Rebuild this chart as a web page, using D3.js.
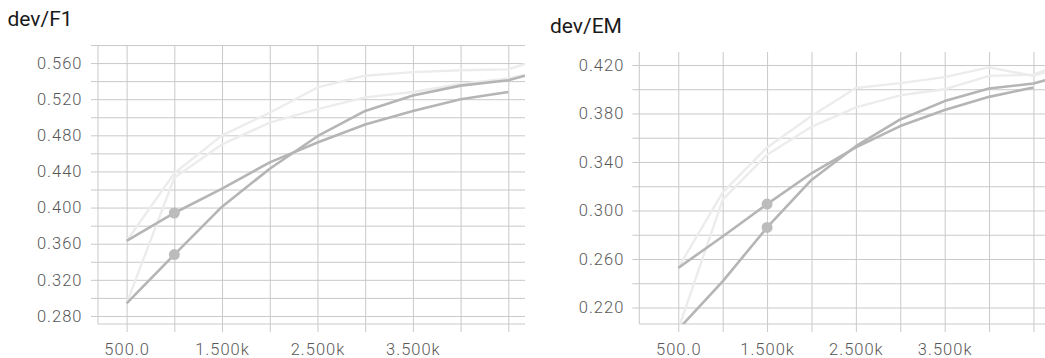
<!DOCTYPE html>
<html>
<head>
<meta charset="utf-8">
<script src="https://cdn.jsdelivr.net/npm/d3@7"></script>
<style>
  html, body { margin: 0; padding: 0; background: #fff; }
  svg { display: block; }
  text { font-family: Roboto, "Liberation Sans", sans-serif; }
</style>
</head>
<body>
<svg id="chart" width="1045" height="358"></svg>
<script>
// Training steps at which the dev set was evaluated
const steps = [500, 1000, 1500, 2000, 2500, 3000, 3500, 4000, 4500];
const stepsFull = [500, 1000, 1500, 2000, 2500, 3000, 3500, 4000, 4500, 4675];

// x grid / tick labels
const xGridSteps = [500, 1000, 1500, 2000, 2500, 3000, 3500, 4000, 4500];
const xLabelSteps = [500, 1500, 2500, 3500];
const xLabelText = ["500.0", "1.500k", "2.500k", "3.500k"];

// dev/F1 — smoothed runs (dark) and raw runs (faint)
const f1RunA = [0.363, 0.394, 0.421, 0.450, 0.472, 0.492, 0.507, 0.520, 0.528];
const f1RunB = [0.294, 0.348, 0.401, 0.443, 0.479, 0.507, 0.524, 0.535, 0.541, 0.546];
const f1RawA = [0.363, 0.438, 0.480, 0.505, 0.533, 0.546, 0.550, 0.552, 0.553, 0.559];
const f1RawB = [0.294, 0.433, 0.470, 0.494, 0.509, 0.522, 0.528, 0.537, 0.543, 0.547];
const f1YMajor = [0.28, 0.32, 0.36, 0.40, 0.44, 0.48, 0.52, 0.56];
const f1YMinor = [0.30, 0.34, 0.38, 0.42, 0.46, 0.50, 0.54, 0.58];
const f1MarkerStep = 1000;

// dev/EM — smoothed runs (dark) and raw runs (faint)
const emRunA = [0.2527, 0.2786, 0.3053, 0.3307, 0.352, 0.3696, 0.3828, 0.3937, 0.4014];
const emRunB = [0.202, 0.2416, 0.286, 0.3252, 0.353, 0.3751, 0.3902, 0.4006, 0.4047, 0.4082];
const emRawA = [0.2527, 0.315, 0.352, 0.378, 0.401, 0.405, 0.410, 0.418, 0.411, 0.415];
const emRawB = [0.202, 0.309, 0.346, 0.369, 0.385, 0.395, 0.400, 0.411, 0.412, 0.417];
const emYMajor = [0.22, 0.26, 0.30, 0.34, 0.38, 0.42];
const emYMinor = [0.24, 0.28, 0.32, 0.36, 0.40];
const emMarkerStep = 1500;

const svg = d3.select("#chart");
const TICK = 7;
const GRID = "#c9c9c9";
const fmtY = d3.format(".3f");

const panels = [
  {
    id: "f1", title: "dev/F1", titleX: 7.5, titleY: 25.5,
    left: 98, right: 525, top: 45, bottom: 324,
    xDomain: [200, 4675], yDomain: [0.2711, 0.58],
    yMajor: f1YMajor, yMinor: f1YMinor, yPad: 8.5,
    raw: [f1RawA, f1RawB], runs: [f1RunA, f1RunB], marker: f1MarkerStep
  },
  {
    id: "em", title: "dev/EM", titleX: 550, titleY: 32.5,
    left: 639.3, right: 1049, top: 52, bottom: 324,
    xDomain: [61, 4675], yDomain: [0.2064, 0.4307],
    yMajor: emYMajor, yMinor: emYMinor, yPad: 8,
    raw: [emRawA, emRawB], runs: [emRunA, emRunB], marker: emMarkerStep
  }
];

function seriesPoints(values) {
  const xs = values.length === steps.length ? steps : stepsFull;
  return d3.zip(xs, values);
}

panels.forEach(p => {
  const x = d3.scaleLinear().domain(p.xDomain).range([p.left, p.right]);
  const y = d3.scaleLinear().domain(p.yDomain).range([p.bottom, p.top]);
  const g = svg.append("g").attr("class", "panel-" + p.id);

  // title
  g.append("text")
    .attr("x", p.titleX).attr("y", p.titleY)
    .attr("font-size", 21).attr("font-weight", 400).attr("fill", "#1a1a1a")
    .text(p.title);

  // horizontal grid + y tick labels
  const majorSet = new Set(p.yMajor.map(v => v.toFixed(3)));
  const yTicks = p.yMajor.concat(p.yMinor).sort(d3.ascending);
  const yAxis = d3.axisLeft(y)
    .tickValues(yTicks)
    .tickSize(-(p.right - p.left + TICK))
    .tickPadding(p.yPad)
    .tickFormat(v => majorSet.has(v.toFixed(3)) ? fmtY(v) : "");
  g.append("g")
    .attr("transform", `translate(${p.left - TICK},0)`)
    .call(yAxis)
    .call(a => a.select(".domain").remove())
    .call(a => a.selectAll(".tick line").attr("stroke", GRID))
    .call(a => a.selectAll(".tick text")
      .attr("font-size", 16.5).attr("font-weight", 300)
      .attr("letter-spacing", 1).attr("fill", "#585858")
      .attr("font-family", "Roboto, 'Liberation Sans', sans-serif"));

  // vertical grid + x tick labels
  const labelMap = new Map(xLabelSteps.map((s, i) => [s, xLabelText[i]]));
  const xAxis = d3.axisBottom(x)
    .tickValues(xGridSteps)
    .tickSize(p.bottom - p.top + 8)
    .tickPadding(11)
    .tickFormat(s => labelMap.get(s) || "");
  g.append("g")
    .attr("transform", `translate(0,${p.top})`)
    .call(xAxis)
    .call(a => a.select(".domain").remove())
    .call(a => a.selectAll(".tick line").attr("stroke", GRID))
    .call(a => a.selectAll(".tick text")
      .attr("font-size", 16.5).attr("font-weight", 300)
      .attr("letter-spacing", 1).attr("fill", "#585858")
      .attr("font-family", "Roboto, 'Liberation Sans', sans-serif"));

  // axis lines
  g.append("line")
    .attr("x1", p.left).attr("x2", p.left)
    .attr("y1", p.top).attr("y2", p.bottom)
    .attr("stroke", GRID);
  g.append("line")
    .attr("x1", p.left).attr("x2", p.right)
    .attr("y1", p.bottom).attr("y2", p.bottom)
    .attr("stroke", GRID);

  // plot clip
  const clipId = "clip-" + p.id;
  svg.append("clipPath").attr("id", clipId)
    .append("rect")
    .attr("x", p.left).attr("y", p.top)
    .attr("width", p.right - p.left).attr("height", p.bottom - p.top);

  const plot = g.append("g").attr("clip-path", `url(#${clipId})`);
  const line = d3.line().x(d => x(d[0])).y(d => y(d[1]));

  plot.selectAll("path.raw")
    .data(p.raw)
    .join("path")
    .attr("class", "raw")
    .attr("d", v => line(seriesPoints(v)))
    .attr("fill", "none")
    .attr("stroke", "#ececec")
    .attr("stroke-width", 2.4)
    .attr("stroke-linejoin", "round");

  plot.selectAll("path.run")
    .data(p.runs)
    .join("path")
    .attr("class", "run")
    .attr("d", v => line(seriesPoints(v)))
    .attr("fill", "none")
    .attr("stroke", "#b5b5b5")
    .attr("stroke-width", 2.6)
    .attr("stroke-linejoin", "round");

  // hover markers on each smoothed run
  const mi = steps.indexOf(p.marker);
  plot.selectAll("circle.marker")
    .data(p.runs)
    .join("circle")
    .attr("class", "marker")
    .attr("cx", x(p.marker))
    .attr("cy", v => y(v[mi]))
    .attr("r", 5.5)
    .attr("fill", "#bcbcbc");
});
</script>
</body>
</html>
